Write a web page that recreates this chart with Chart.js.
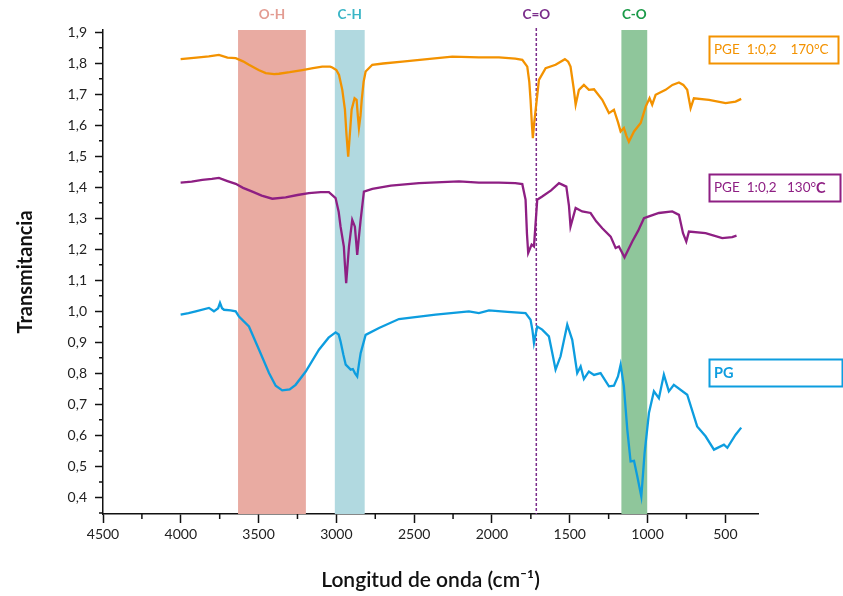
<!DOCTYPE html>
<html>
<head>
<meta charset="utf-8">
<title>FTIR PG / PGE</title>
<script src="https://cdn.jsdelivr.net/npm/chart.js@4.4.1/dist/chart.umd.min.js"></script>
<style>
  body { margin: 0; background: #fff; }
  canvas { display: block; }
</style>
</head>
<body>
<canvas id="ftir" width="843" height="596"></canvas>
<script>
// PGE 1:0,2 170°C spectrum (wavenumber cm-1 / transmittance)
const pge170Wave = [4001, 3900, 3820, 3755, 3700, 3647, 3600, 3562, 3500, 3454, 3400, 3369, 3300, 3219, 3150, 3091, 3040, 3026, 3000, 2983,
  2962, 2945, 2935, 2924, 2915, 2902, 2883, 2870, 2862, 2855, 2845, 2837, 2825, 2812, 2769, 2700, 2576, 2400, 2255, 2084,
  1955, 1850, 1805, 1773, 1760, 1752, 1743, 1737, 1730, 1719, 1698, 1655, 1591, 1531, 1510, 1495, 1475, 1462, 1441, 1409,
  1377, 1344, 1291, 1248, 1216, 1190, 1173, 1152, 1135, 1120, 1087, 1044, 1012, 987, 970, 948, 884, 840, 798, 770,
  745, 723, 702, 605, 498, 434, 398];
const pge170T = [1.813, 1.818, 1.822, 1.827, 1.818, 1.816, 1.806, 1.795, 1.778, 1.768, 1.765, 1.766, 1.771, 1.778, 1.784, 1.789, 1.789, 1.786, 1.778, 1.762,
  1.714, 1.650, 1.570, 1.499, 1.560, 1.650, 1.687, 1.682, 1.630, 1.591, 1.630, 1.682, 1.740, 1.773, 1.795, 1.799, 1.805, 1.814, 1.821, 1.819,
  1.819, 1.815, 1.811, 1.789, 1.740, 1.682, 1.600, 1.558, 1.600, 1.650, 1.746, 1.784, 1.795, 1.813, 1.805, 1.789, 1.720, 1.666, 1.714, 1.730,
  1.714, 1.716, 1.682, 1.639, 1.650, 1.610, 1.580, 1.591, 1.565, 1.547, 1.580, 1.607, 1.660, 1.687, 1.666, 1.698, 1.714, 1.730, 1.738, 1.730,
  1.714, 1.655, 1.687, 1.682, 1.671, 1.676, 1.685];

// PGE 1:0,2 130°C spectrum
const pge130Wave = [4001, 3930, 3862, 3800, 3755, 3700, 3647, 3600, 3540, 3480, 3412, 3326, 3250, 3177, 3100, 3048, 3005, 2985, 2973, 2952,
  2945, 2937, 2928, 2919, 2898, 2881, 2872, 2866, 2855, 2844, 2823, 2769, 2650, 2469, 2212, 2084, 1955, 1850, 1805, 1784,
  1775, 1767, 1745, 1730, 1709, 1677, 1620, 1569, 1522, 1505, 1495, 1462, 1420, 1366, 1330, 1291, 1237, 1205, 1184, 1148,
  1098, 1060, 1023, 991, 927, 841, 798, 772, 751, 734, 627, 520, 456, 428];
const pge130T = [1.415, 1.418, 1.424, 1.427, 1.430, 1.420, 1.411, 1.398, 1.386, 1.373, 1.363, 1.367, 1.375, 1.381, 1.384, 1.384, 1.365, 1.320, 1.273, 1.209,
  1.150, 1.091, 1.150, 1.209, 1.295, 1.273, 1.220, 1.182, 1.240, 1.295, 1.386, 1.395, 1.405, 1.413, 1.419, 1.415, 1.415, 1.413, 1.410, 1.360,
  1.250, 1.188, 1.215, 1.209, 1.360, 1.370, 1.390, 1.413, 1.402, 1.340, 1.273, 1.333, 1.322, 1.317, 1.290, 1.268, 1.241, 1.204, 1.209, 1.174,
  1.225, 1.260, 1.300, 1.306, 1.317, 1.322, 1.311, 1.252, 1.225, 1.257, 1.252, 1.236, 1.239, 1.244];

// PG spectrum
const pgWave = [4001, 3950, 3904, 3819, 3787, 3760, 3748, 3735, 3722, 3680, 3647, 3626, 3562, 3497, 3433, 3390, 3348, 3300, 3262, 3197,
  3112, 3050, 3005, 2985, 2973, 2955, 2940, 2908, 2894, 2880, 2866, 2855, 2844, 2812, 2726, 2598, 2362, 2148, 2084, 2019,
  1900, 1784, 1752, 1740, 1730, 1709, 1677, 1634, 1610, 1591, 1559, 1516, 1484, 1452, 1430, 1409, 1377, 1344, 1302, 1248,
  1216, 1190, 1173, 1152, 1130, 1109, 1087, 1066, 1040, 1019, 991, 959, 927, 895, 863, 831, 745, 681, 627, 573,
  509, 487, 434, 398];
const pgT = [0.989, 0.994, 1.000, 1.011, 1.000, 1.010, 1.027, 1.010, 1.005, 1.003, 1.000, 0.983, 0.951, 0.876, 0.801, 0.760, 0.745, 0.748, 0.763, 0.806,
  0.876, 0.915, 0.932, 0.925, 0.903, 0.860, 0.828, 0.812, 0.814, 0.800, 0.790, 0.830, 0.865, 0.924, 0.946, 0.975, 0.989, 1.000, 0.994, 1.003,
  0.998, 0.994, 0.973, 0.940, 0.898, 0.951, 0.941, 0.919, 0.860, 0.812, 0.855, 0.957, 0.908, 0.801, 0.822, 0.782, 0.806, 0.795, 0.801, 0.758,
  0.760, 0.790, 0.828, 0.758, 0.618, 0.516, 0.518, 0.468, 0.403, 0.543, 0.672, 0.742, 0.720, 0.796, 0.742, 0.763, 0.731, 0.629, 0.597, 0.554,
  0.570, 0.560, 0.602, 0.625];

// absorption bands: label, from, to (cm-1)
const bandLabels = ['O-H', 'C-H', 'C-O'];
const bandFrom = [3632, 3010, 1168];
const bandTo = [3196, 2818, 1002];
const bandFill = ['#e9aba2', '#b1d9e0', '#8fc69b'];
const bandText = ['#e39c92', '#3ab5c6', '#1a9a48'];

// carbonyl marker
const carbonylLabel = 'C=O';
const carbonylWave = 1715;

const xTicks = [4500, 4000, 3500, 3000, 2500, 2000, 1500, 1000, 500];
const yTicks = [0.4, 0.5, 0.6, 0.7, 0.8, 0.9, 1.0, 1.1, 1.2, 1.3, 1.4, 1.5, 1.6, 1.7, 1.8, 1.9];

const orange = '#f39200';
const purple = '#8e1f83';
const blue = '#0d9ddf';

const toPoints = (wave, t) => wave.map((w, i) => ({ x: w, y: t[i] }));

// shaded bands + dashed C=O line behind the spectra
const bandsPlugin = {
  id: 'bands',
  beforeDatasetsDraw(chart) {
    const { ctx, chartArea, scales } = chart;
    const x = scales.x;
    ctx.save();
    for (let i = 0; i < bandLabels.length; i++) {
      const a = x.getPixelForValue(bandFrom[i]);
      const b = x.getPixelForValue(bandTo[i]);
      ctx.fillStyle = bandFill[i];
      ctx.fillRect(a, chartArea.top, b - a, chartArea.bottom - chartArea.top);
    }
    const cx = x.getPixelForValue(carbonylWave);
    ctx.strokeStyle = '#7b2d8b';
    ctx.lineWidth = 1.5;
    ctx.setLineDash([3, 2]);
    ctx.beginPath();
    ctx.moveTo(cx, chartArea.top - 2);
    ctx.lineTo(cx, chartArea.bottom);
    ctx.stroke();
    ctx.restore();
  },
  afterDraw(chart) {
    const { ctx, scales } = chart;
    const x = scales.x;
    const y = scales.y;
    ctx.save();
    ctx.font = 'bold 13.5px Lato';
    ctx.textAlign = 'center';
    ctx.textBaseline = 'middle';
    for (let i = 0; i < bandLabels.length; i++) {
      ctx.fillStyle = bandText[i];
      ctx.fillText(bandLabels[i], x.getPixelForValue((bandFrom[i] + bandTo[i]) / 2), 15);
    }
    ctx.fillStyle = '#7b2d8b';
    ctx.fillText(carbonylLabel, x.getPixelForValue(carbonylWave), 15);

    // minor ticks
    ctx.strokeStyle = '#111';
    ctx.lineWidth = 1.5;
    ctx.beginPath();
    for (let v = 4250; v > x.min; v -= 500) {
      const px = x.getPixelForValue(v);
      ctx.moveTo(px, x.top);
      ctx.lineTo(px, x.top + 5);
    }
    for (let v = 0.35; v < 1.9; v += 0.1) {
      const py = y.getPixelForValue(v);
      ctx.moveTo(y.right, py);
      ctx.lineTo(y.right - 4, py);
    }
    ctx.stroke();

    // series boxes on the right
    const boxes = [
      { top: 36, w: 129, color: orange, parts: [['PGE  1:0,2    170°C', '']] },
      { top: 174, w: 131, color: purple, parts: [['PGE  1:0,2   130°', 'C']] },
      { top: 359, w: 133, color: blue, parts: [['', 'PG']] }
    ];
    ctx.textAlign = 'left';
    boxes.forEach(b => {
      ctx.strokeStyle = b.color;
      ctx.lineWidth = 2;
      ctx.strokeRect(709.5, b.top + 0.5, b.w, 27);
      ctx.fillStyle = b.color;
      let tx = 714;
      const [plain, strong] = b.parts[0];
      ctx.font = '13.5px Lato';
      ctx.fillText(plain, tx, b.top + 14);
      tx += ctx.measureText(plain).width;
      ctx.font = 'bold 14.5px Lato';
      ctx.fillText(strong, tx, b.top + 14);
    });
    ctx.restore();
  }
};

new Chart(document.getElementById('ftir'), {
  type: 'line',
  data: {
    datasets: [
      { label: 'PGE 1:0,2 170°C', data: toPoints(pge170Wave, pge170T), borderColor: orange },
      { label: 'PGE 1:0,2 130°C', data: toPoints(pge130Wave, pge130T), borderColor: purple },
      { label: 'PG', data: toPoints(pgWave, pgT), borderColor: blue }
    ]
  },
  options: {
    responsive: false,
    animation: false,
    devicePixelRatio: 1,
    layout: { padding: { left: 14, top: 30, right: 85, bottom: 0 } },
    elements: {
      point: { radius: 0 },
      line: { borderWidth: 2.3, tension: 0 }
    },
    plugins: {
      legend: { display: false },
      tooltip: { enabled: false }
    },
    scales: {
      x: {
        type: 'linear',
        reverse: true,
        min: 290,
        max: 4500,
        afterBuildTicks: s => { s.ticks = xTicks.map(v => ({ value: v })); },
        afterFit: s => { s.height = 82; },
        grid: { drawOnChartArea: false, tickLength: 9, tickWidth: 1.5, tickColor: '#111' },
        border: { color: '#111', width: 1.5 },
        ticks: {
          color: '#222',
          font: { family: 'Lato', size: 14 },
          padding: 3,
          maxRotation: 0,
          callback: v => String(v)
        },
        title: {
          display: true,
          text: 'Longitud de onda (cm⁻¹)',
          color: '#111',
          font: { family: 'Lato', size: 21, weight: '600' },
          padding: { top: 0, bottom: 3 }
        }
      },
      y: {
        min: 0.3465,
        max: 1.907,
        afterBuildTicks: s => { s.ticks = yTicks.map(v => ({ value: v })); },
        afterFit: s => { s.width = 89; },
        grid: { drawOnChartArea: false, tickLength: 8, tickWidth: 1.5, tickColor: '#111' },
        border: { color: '#111', width: 1.5 },
        ticks: {
          color: '#222',
          font: { family: 'Lato', size: 14 },
          padding: 8,
          callback: v => v.toFixed(1).replace('.', ',')
        },
        title: {
          display: true,
          text: 'Transmitancia',
          color: '#111',
          font: { family: 'Lato', size: 20, weight: 'bold' },
          padding: 0
        }
      }
    }
  },
  plugins: [bandsPlugin]
});
</script>
</body>
</html>
